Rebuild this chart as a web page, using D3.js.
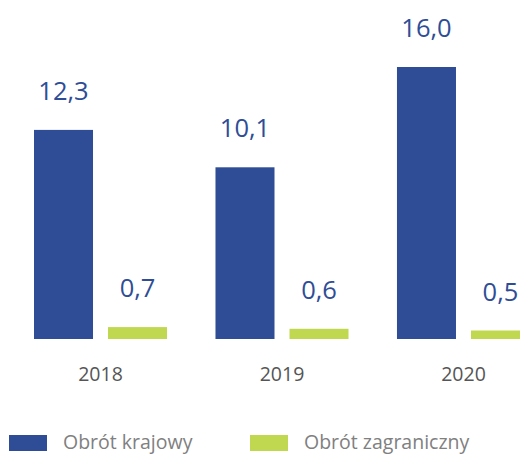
<!DOCTYPE html>
<html>
<head>
<meta charset="utf-8">
<script src="https://cdn.jsdelivr.net/npm/d3@7"></script>
<style>
  body { margin: 0; background: #fff; }
  svg { display: block; font-family: "Open Sans", sans-serif; }
</style>
</head>
<body>
<div id="chart-area"></div>
<script>
const W = 520
const H = 454

const years = ["2018", "2019", "2020"]
const series = ["Obrót krajowy", "Obrót zagraniczny"]
const domestic = [12.3, 10.1, 16.0]
const foreign = [0.7, 0.6, 0.5]
const COLORS = ["#2e4d96", "#bfd84f"]

const svg = d3.select("#chart-area").append("svg")
  .attr("width", W)
  .attr("height", H)

// outer band = year groups, inner band = the two series
const xScale = d3.scaleBand()
  .domain(years)
  .range([34, 530])
  .paddingInner(0.267)
  .paddingOuter(0)

const xInner = d3.scaleBand()
  .domain(series)
  .range([0, xScale.bandwidth()])
  .paddingInner(0.2027)

const yScale = d3.scaleLinear()
  .domain([0, 16])
  .range([339, 67])

const fmt = v => d3.format(".1f")(v).replace(".", ",")

const data = []
years.forEach((yr, i) => {
  data.push({ year: yr, s: series[0], v: domestic[i], c: COLORS[0] })
  data.push({ year: yr, s: series[1], v: foreign[i], c: COLORS[1] })
})

const g = svg.append("g")

g.selectAll("rect.bar")
  .data(data)
  .enter().append("rect")
  .attr("class", "bar")
  .attr("x", d => xScale(d.year) + xInner(d.s))
  .attr("y", d => yScale(d.v))
  .attr("width", xInner.bandwidth())
  .attr("height", d => yScale(0) - yScale(d.v))
  .attr("fill", d => d.c)

g.selectAll("text.val")
  .data(data)
  .enter().append("text")
  .attr("class", "val")
  .attr("x", d => xScale(d.year) + xInner(d.s) + xInner.bandwidth() / 2)
  .attr("y", d => yScale(d.v) - 30)
  .attr("text-anchor", "middle")
  .attr("font-size", "25.5px")
  .attr("fill", COLORS[0])
  .text(d => fmt(d.v))

// year labels
const xAxis = d3.axisBottom(xScale).tickSize(0).tickPadding(0)
const ax = svg.append("g")
  .attr("transform", "translate(0, 366)")
  .call(xAxis)
ax.select(".domain").remove()
ax.selectAll("text")
  .attr("font-size", "19.5px")
  .attr("font-family", "Open Sans, sans-serif")
  .attr("fill", "#555")
  .attr("dy", "0.75em")

// legend
const legendX = [9, 250]
const legend = svg.selectAll("g.legend")
  .data(series)
  .enter().append("g")
  .attr("class", "legend")
  .attr("transform", (d, i) => `translate(${legendX[i]}, 435)`)

legend.append("rect")
  .attr("width", 38)
  .attr("height", 16)
  .attr("fill", (d, i) => COLORS[i])

legend.append("text")
  .attr("x", 54)
  .attr("y", 14)
  .attr("font-size", "19.5px")
  .attr("fill", "#808080")
  .text(d => d)
</script>
</body>
</html>
